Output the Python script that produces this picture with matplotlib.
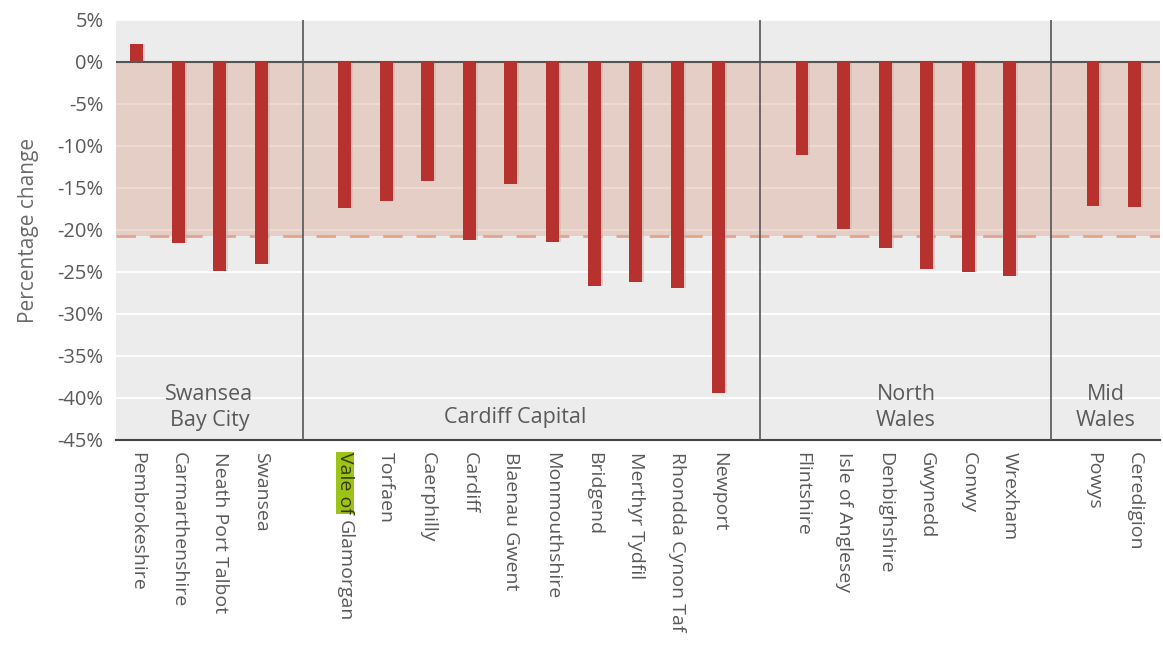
import numpy as np
import matplotlib
matplotlib.use("Agg")
import matplotlib.pyplot as plt

plt.rcParams['font.family'] = ['Open Sans', 'DejaVu Sans']

# data
areas = ["Pembrokeshire", "Carmarthenshire", "Neath Port Talbot", "Swansea",
         "Vale of Glamorgan", "Torfaen", "Caerphilly", "Cardiff", "Blaenau Gwent",
         "Monmouthshire", "Bridgend", "Merthyr Tydfil", "Rhondda Cynon Taf", "Newport",
         "Flintshire", "Isle of Anglesey", "Denbighshire", "Gwynedd", "Conwy", "Wrexham",
         "Powys", "Ceredigion"]
pct_change = [2.2, -21.6, -24.9, -24.1,
              -17.4, -16.6, -14.2, -21.2, -14.5, -21.4, -26.7, -26.2, -26.9, -39.4,
              -11.1, -19.9, -22.1, -24.7, -25.0, -25.5,
              -17.1, -17.3]
group_names = ["Swansea\nBay City", "Cardiff Capital", "North\nWales", "Mid\nWales"]
group_sizes = [4, 10, 6, 2]
wales_avg = -20.7
yticks = [5, 0, -5, -10, -15, -20, -25, -30, -35, -40, -45]

# slot positions: one empty slot between regions
xpos = []
dividers = []
slot = 0
for i, n in enumerate(group_sizes):
    xpos += list(range(slot, slot + n))
    slot += n
    if i < len(group_sizes) - 1:
        dividers.append(slot)
        slot += 1
xpos = np.array(xpos)

grey_txt = "#5a5a5a"
bar_col = "#b7322f"

fig = plt.figure(figsize=(11.63, 6.45), dpi=100)
ax = fig.add_axes([0.0997, 0.318, 0.8973, 0.651])
ax.set_facecolor("#ececec")

xmin, xmax = -0.5, 24.6
ax.set_xlim(xmin, xmax)
ax.set_ylim(-45, 5)

for y in yticks:
    ax.axhline(y, color="white", lw=1.3, zorder=1)

ax.axhspan(wales_avg, 0, color="#d9967f", alpha=0.35, lw=0, zorder=2)
ax.axhline(wales_avg, color="#e3a48e", lw=2, dashes=(7, 5), zorder=2)

# faint shadow then bars
ax.bar(xpos + 0.05, pct_change, width=0.31, color="#c8b4b0", alpha=0.5, zorder=3)
ax.bar(xpos, pct_change, width=0.31, color=bar_col, zorder=4)

ax.axhline(0, color="#555555", lw=1.5, zorder=3)
for d in dividers:
    ax.axvline(d, color="#555555", lw=1.2, zorder=3)

# region labels
bounds = [xmin] + dividers + [xmax]
label_y = [-41.1, -42.3, -41.1, -41.1]
label_x_shift = [0, -0.4, 0, 0]
for i, name in enumerate(group_names):
    cx = (bounds[i] + bounds[i + 1]) / 2 + label_x_shift[i]
    ax.text(cx, label_y[i], name, ha="center", va="center", fontsize=15.5,
            color=grey_txt, linespacing=1.3, zorder=5)

ax.set_yticks(yticks)
ax.set_yticklabels([f"{v}%" for v in yticks], fontsize=14.5, color=grey_txt)
ax.tick_params(axis="y", length=0, pad=9)
ax.set_ylabel("Percentage change", fontsize=15, color="#6a6a6a")
ax.yaxis.set_label_coords(-0.074, 0.5)

ax.set_xticks([])
for x, name in zip(xpos, areas):
    if name == "Vale of Glamorgan":
        # highlighted "Vale of", rest of the name follows it
        first = ax.annotate("Vale of", xy=(x, 0), xycoords=("data", "axes fraction"),
                            xytext=(0, -9), textcoords="offset points", rotation=270,
                            ha="center", va="top", fontsize=14, color="#3a3a00",
                            bbox=dict(boxstyle="square,pad=0", fc="#9cc31a", ec="none"))
        ax.annotate("Glamorgan", xy=(0.5, 0), xycoords=first,
                    xytext=(0, -4), textcoords="offset points", rotation=270,
                    ha="center", va="top", fontsize=14, color=grey_txt)
        continue
    ax.annotate(name, xy=(x, 0), xycoords=("data", "axes fraction"),
                xytext=(0, -9), textcoords="offset points", rotation=270,
                ha="center", va="top", fontsize=14, color=grey_txt)

for s in ["top", "right", "left"]:
    ax.spines[s].set_visible(False)
ax.spines["bottom"].set_color("#444444")
ax.spines["bottom"].set_linewidth(1.5)

fig.savefig("out.png", dpi=100)
